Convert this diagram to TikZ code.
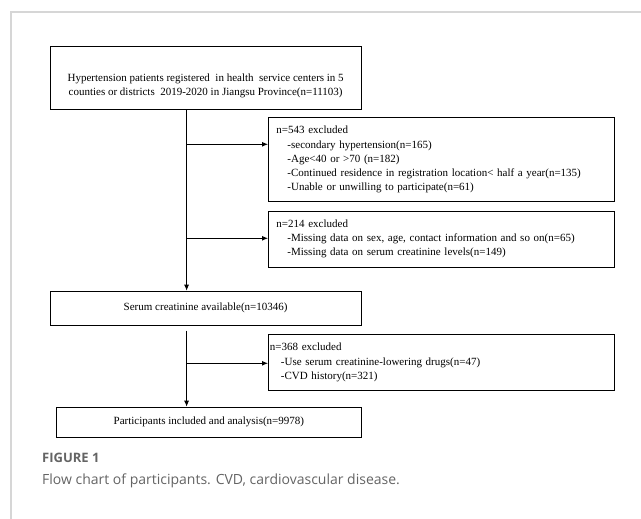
\documentclass[tikz,border=0pt]{standalone}
\usepackage{fontspec}
\setmainfont{Liberation Serif}
\newfontfamily\capfont{Open Sans}
\usetikzlibrary{arrows.meta}

\definecolor{cardline}{RGB}{214,214,214}
\definecolor{capgray}{RGB}{100,100,100}

\newcommand{\ind}{\hspace*{11pt}}

\tikzset{
  flowbox/.style = {shape=rectangle, draw, line width=0.9pt,
                    inner sep=0pt, anchor=north west,
                    font=\fontsize{11}{14.2}\selectfont},
  mainbox/.style = {flowbox, align=center},
  exclbox/.style = {flowbox, align=left, inner xsep=8pt,
                    text width=330pt, minimum width=346pt},
  flowline/.style = {draw, line width=0.9pt},
  flowarrow/.style = {flowline, -{Latex[length=6pt,width=5pt]}}
}

\begin{document}
\begin{tikzpicture}[x=1pt,y=-1pt]
\useasboundingbox (0,0) rectangle (641,519);

% card frame
\draw[cardline, line width=1.4pt] (641,12) -- (11,12) -- (11,519);

% main column
\node[mainbox, minimum width=311pt, minimum height=63.6pt] (start) at (49.7,45.7)
  {\rule{0pt}{24pt}Hypertension patients registered\ \ in health\ \ service centers in 5\\
   counties or districts\ \ 2019-2020 in Jiangsu Province(n=11103)};
\node[mainbox, minimum width=311pt, minimum height=34.3pt] (serum) at (49.7,290.7)
  {Serum creatinine available(n=10346)};
\node[mainbox, minimum width=304.4pt, minimum height=30pt] (final) at (56.2,406.7)
  {Participants included and analysis(n=9978)};

% exclusion boxes
\node[exclbox, minimum height=84pt] (excl1) at (268,117.3)
  {n=543 excluded\\
   \ind-secondary hypertension(n=165)\\
   \ind-Age<40 or >70 (n=182)\\
   \ind-Continued residence in registration location< half a year(n=135)\\
   \ind-Unable or unwilling to participate(n=61)};
\node[exclbox, minimum height=56pt] (excl2) at (268,210.7)
  {n=214 excluded\\
   \ind-Missing data on sex, age, contact information and so on(n=65)\\
   \ind-Missing data on serum creatinine levels(n=149)};
\node[exclbox, minimum height=56pt, inner xsep=1.5pt, text width=343pt] (excl3) at (268,334)
  {n=368 excluded\\
   \ind-Use serum creatinine-lowering drugs(n=47)\\
   \ind-CVD history(n=321)};

% connectors
\coordinate (branch1) at (186.6,144.3);
\coordinate (branch2) at (186.6,238.3);
\coordinate (branch3) at (186.6,363.3);
\coordinate (spine2) at (186.6,330.7);

\draw[flowarrow] (start.south -| branch1) -- (serum.north -| branch1);
\draw[flowarrow] (branch1) -- (branch1 -| excl1.west);
\draw[flowarrow] (branch2) -- (branch2 -| excl2.west);
\draw[flowarrow] (spine2) -- (final.north -| spine2);
\draw[flowarrow] (branch3) -- (branch3 -| excl3.west);

% caption
\node[anchor=base west, inner sep=0pt, text=capgray,
      font=\capfont\bfseries\fontsize{13}{15}\selectfont] (figlabel) at (42,462) {FIGURE 1};
\node[anchor=base west, inner sep=0pt, text=capgray,
      font=\capfont\fontsize{14}{16}\selectfont] (figtext) at (42,484)
  {Flow chart of participants. CVD, cardiovascular disease.};
\end{tikzpicture}
\end{document}
